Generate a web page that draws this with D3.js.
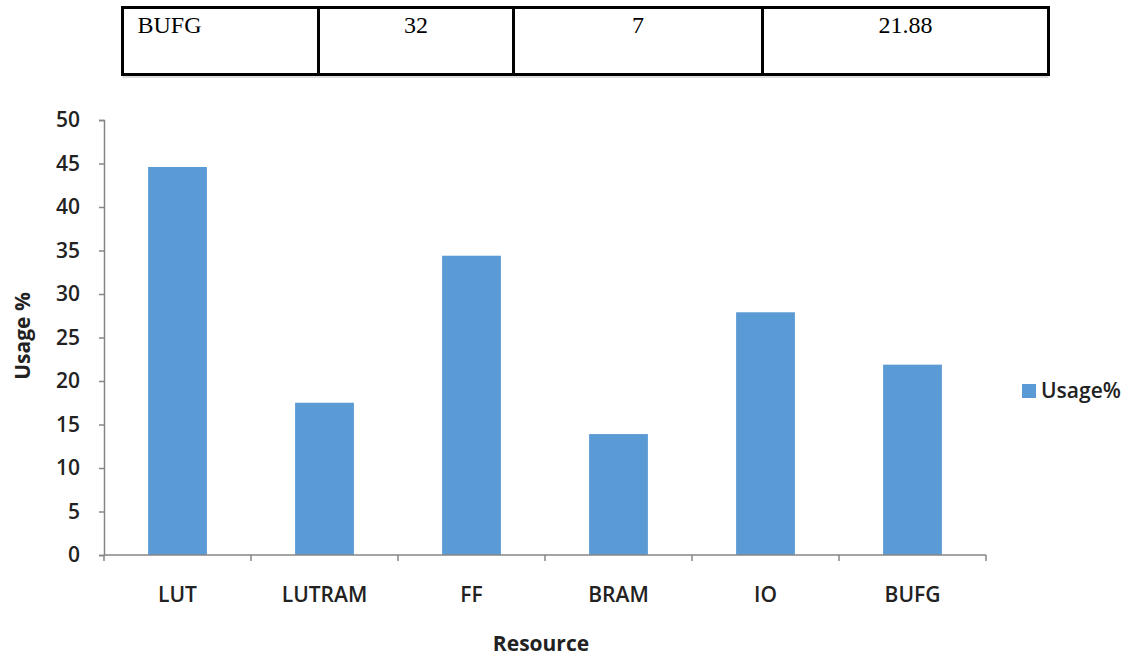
<!DOCTYPE html>
<html>
<head>
<meta charset="utf-8">
<script src="https://cdn.jsdelivr.net/npm/d3@7"></script>
<style>
  html, body { margin: 0; padding: 0; background: #fff; }
  svg { display: block; }
</style>
</head>
<body>
<svg id="chart" width="1128" height="658"></svg>
<script>
// ---- data ----
const tableRow = ["BUFG", "32", "7", "21.88"];
const categories = ["LUT", "LUTRAM", "FF", "BRAM", "IO", "BUFG"];
const usage = [44.6, 17.5, 34.4, 13.9, 27.9, 21.88];
const yTicks = [0, 5, 10, 15, 20, 25, 30, 35, 40, 45, 50];
const seriesName = "Usage%";
const xTitle = "Resource";
const yTitle = "Usage %";

const svg = d3.select("#chart");
const barColor = "#5b9bd5";
const axisColor = "#868686";
const textColor = "#222222";
const sansFont = "'Open Sans', sans-serif";

// ---- table row at top ----
const colEdges = [122.5, 318.5, 513.5, 762.5, 1048.5];
const tTop = 7.5, tBot = 74.5;
const tg = svg.append("g");
tg.append("rect").attr("x", colEdges[0]).attr("y", tTop)
  .attr("width", colEdges[4] - colEdges[0]).attr("height", tBot - tTop)
  .attr("fill", "none").attr("stroke", "#000").attr("stroke-width", 3);
for (let i = 1; i < colEdges.length - 1; i++) {
  tg.append("line").attr("x1", colEdges[i]).attr("x2", colEdges[i])
    .attr("y1", tTop).attr("y2", tBot).attr("stroke", "#000").attr("stroke-width", 3);
}
tg.append("line").attr("x1", colEdges[0]).attr("x2", colEdges[4])
  .attr("y1", tBot + 2.5).attr("y2", tBot + 2.5).attr("stroke", "#bbb").attr("stroke-width", 1);
tableRow.forEach((t, i) => {
  const first = i === 0;
  tg.append("text")
    .attr("x", first ? colEdges[0] + 15 : (colEdges[i] + colEdges[i + 1]) / 2)
    .attr("y", 33)
    .attr("text-anchor", first ? "start" : "middle")
    .attr("font-family", "'Liberation Serif', 'Times New Roman', serif")
    .attr("font-size", 24)
    .attr("fill", "#000")
    .text(t);
});

// ---- chart ----
const x = d3.scaleBand().domain(categories).range([104, 986])
  .paddingInner(0.6).paddingOuter(0.3);
const y = d3.scaleLinear().domain([0, 50]).range([555, 120]);

// bars
svg.append("g").selectAll("rect").data(categories).join("rect")
  .attr("x", d => x(d))
  .attr("y", (d, i) => y(usage[i]))
  .attr("width", x.bandwidth())
  .attr("height", (d, i) => y(0) - y(usage[i]))
  .attr("fill", barColor);

// y axis
const yAxis = svg.append("g").attr("transform", "translate(104,0)")
  .call(d3.axisLeft(y).tickValues(yTicks).tickSize(5).tickPadding(19));
yAxis.select(".domain").attr("stroke", axisColor).attr("stroke-width", 1.5);
yAxis.selectAll(".tick line").attr("stroke", axisColor).attr("stroke-width", 1.5);
yAxis.selectAll(".tick text").attr("font-family", sansFont).attr("font-size", 21)
  .attr("font-weight", 600).attr("fill", textColor);

// x axis (ticks between categories)
const xAxisG = svg.append("g");
const x0 = x.range()[0], x1 = x.range()[1];
xAxisG.append("line").attr("x1", x0).attr("x2", x1).attr("y1", y(0)).attr("y2", y(0))
  .attr("stroke", axisColor).attr("stroke-width", 1.5);
const bounds = d3.range(categories.length + 1).map(i => x0 + i * x.step());
xAxisG.selectAll("line.tk").data(bounds).join("line").attr("class", "tk")
  .attr("x1", d => d).attr("x2", d => d)
  .attr("y1", y(0)).attr("y2", y(0) + 6)
  .attr("stroke", axisColor).attr("stroke-width", 1.5);
xAxisG.selectAll("text").data(categories).join("text")
  .attr("x", d => x(d) + x.bandwidth() / 2)
  .attr("y", 602)
  .attr("text-anchor", "middle")
  .attr("font-family", sansFont).attr("font-size", 21).attr("font-weight", 600)
  .attr("fill", textColor)
  .text(d => d);

// axis titles
svg.append("text").attr("x", 541).attr("y", 651).attr("text-anchor", "middle")
  .attr("font-family", sansFont).attr("font-size", 21).attr("font-weight", "bold")
  .attr("fill", textColor).text(xTitle);
svg.append("text").attr("transform", "translate(30,336) rotate(-90)")
  .attr("text-anchor", "middle")
  .attr("font-family", sansFont).attr("font-size", 21).attr("font-weight", "bold")
  .attr("fill", textColor).text(yTitle);

// legend
const lg = svg.append("g");
lg.append("rect").attr("x", 1022).attr("y", 384).attr("width", 14).attr("height", 14)
  .attr("fill", barColor);
lg.append("text").attr("x", 1041).attr("y", 398)
  .attr("font-family", sansFont).attr("font-size", 21).attr("font-weight", 600)
  .attr("fill", textColor).text(seriesName);
</script>
</body>
</html>
